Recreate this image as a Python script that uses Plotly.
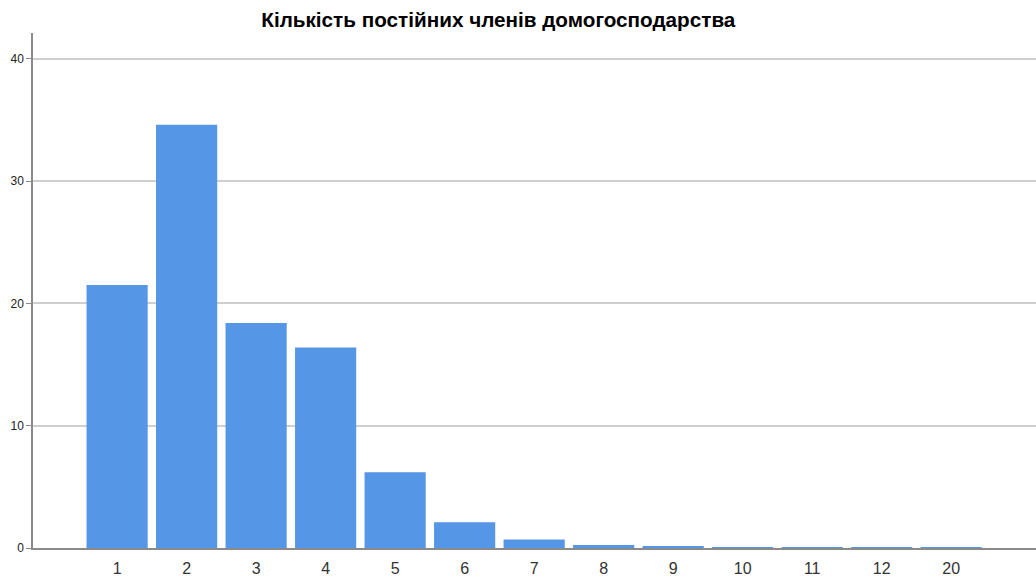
import plotly.graph_objects as go

categories = ["1", "2", "3", "4", "5", "6", "7", "8", "9", "10", "11", "12", "20"]
percent = [21.5, 34.6, 18.4, 16.4, 6.2, 2.1, 0.7, 0.25, 0.1, 0.08, 0.01, 0.01, 0.01]
y_ticks = [0, 10, 20, 30, 40]

fig = go.Figure(go.Bar(
    x=list(range(len(categories))), y=percent,
    marker=dict(color="#5596e6", line=dict(width=0)),
    width=0.88,
))

fig.update_layout(
    width=1036, height=579,
    margin=dict(l=33, r=0, t=33, b=31, autoexpand=False),
    paper_bgcolor="white", plot_bgcolor="white",
    title=dict(text="<b>Кількість постійних членів домогосподарства</b>",
               x=0.481, xanchor="center", y=0.966, yanchor="middle",
               font=dict(family="Liberation Sans, Arial", size=20.7, color="#000000")),
    font=dict(family="Liberation Sans, Arial", color="#222222"),
    showlegend=False,
    bargap=0.12,
)
fig.update_xaxes(
    tickmode="array", tickvals=list(range(len(categories))), ticktext=categories,
    range=[-1.21, 13.22], showgrid=False, zeroline=False,
    showline=True, linecolor="#8a8a8a", linewidth=1.5,
    ticks="", tickfont=dict(size=16, color="#333333"), automargin=False,
    ticklabelstandoff=5,
)
fig.update_yaxes(
    tickmode="array", tickvals=y_ticks, range=[0, 42.1],
    showgrid=True, gridcolor="#cfcfcf", gridwidth=1.5, zeroline=False,
    showline=True, linecolor="#8a8a8a", linewidth=1.5,
    ticks="outside", ticklen=5, tickcolor="#8a8a8a",
    tickfont=dict(size=12, color="#222222"), automargin=False,
)
fig.write_html("out.html", config={"displayModeBar": False},
               post_script="document.body.style.margin='0';document.body.style.overflow='hidden';")
